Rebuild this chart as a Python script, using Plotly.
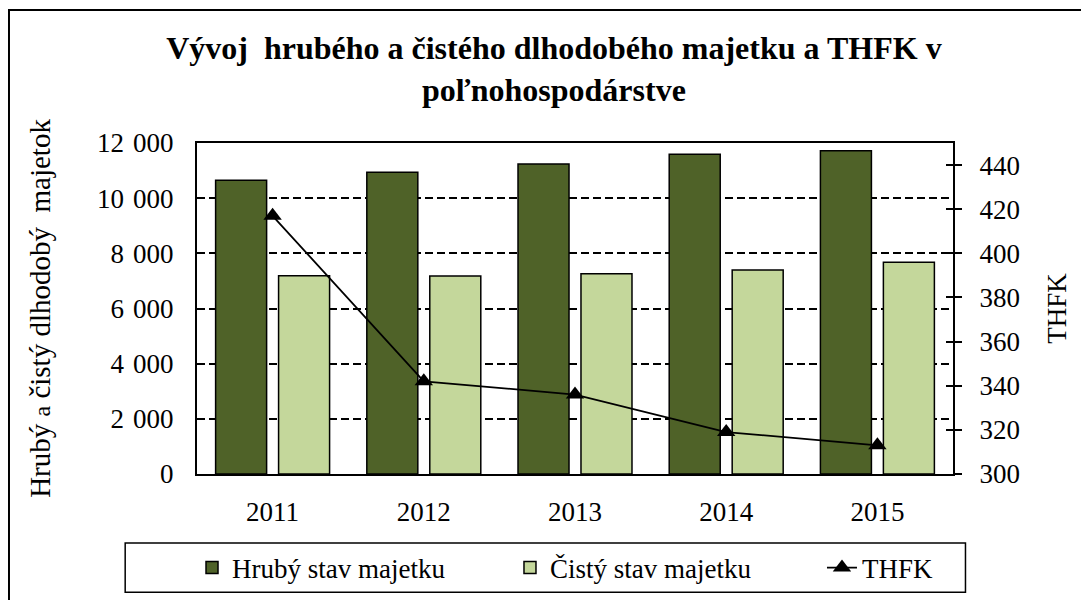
import plotly.graph_objects as go

years = ["2011", "2012", "2013", "2014", "2015"]
hruby = [10650, 10940, 11240, 11590, 11720]
cisty = [7190, 7180, 7260, 7400, 7680]
thfk = [417, 342, 336, 319, 313]

left_ticks = [0, 2000, 4000, 6000, 8000, 10000, 12000]
left_ticktext = ["0", "2 \u200A000", "4 \u200A000", "6 \u200A000", "8 \u200A000", "10 \u200A000", "12 \u200A000"]
right_ticks = [300, 320, 340, 360, 380, 400, 420, 440]

FONT = "Liberation Serif, Times New Roman, serif"
DARK = "#4F6228"
LIGHT = "#C4D79B"
TS = 27

fig = go.Figure()
fig.add_trace(go.Bar(x=years, y=hruby, name="Hrubý stav majetku", legend="legend",
                     marker=dict(color=DARK, line=dict(color="black", width=1.5))))
fig.add_trace(go.Bar(x=years, y=cisty, name="Čistý stav majetku", legend="legend2",
                     marker=dict(color=LIGHT, line=dict(color="black", width=1.5))))
fig.add_trace(go.Scatter(x=years, y=thfk, name="THFK", yaxis="y2", mode="lines+markers",
                         legend="legend3",
                         line=dict(color="black", width=1.8),
                         marker=dict(symbol="triangle-up", size=16, color="black")))
# invisible trace so the crossing tick marks of the right axis render
fig.add_trace(go.Scatter(x=years, y=thfk, yaxis="y3", mode="none", showlegend=False, hoverinfo="skip"))

leg_common = dict(orientation="h", y=-0.284, yanchor="middle", xanchor="left",
                  font=dict(family=FONT, size=TS, color="black"), bgcolor="rgba(0,0,0,0)",
                  borderwidth=0)

fig.update_layout(
    template="none",
    width=1081, height=592,
    margin=dict(l=189, r=136, t=135, b=126, autoexpand=False),
    paper_bgcolor="white", plot_bgcolor="white",
    font=dict(family=FONT, size=TS, color="black"),
    title=dict(text="<b>Vývoj  hrubého a čistého dlhodobého majetku a THFK v<br>poľnohospodárstve</b>",
               x=0.505, xanchor="center", y=0.914, yanchor="middle",
               font=dict(family=FONT, size=32, color="black")),
    barmode="group", bargap=0.167, bargroupgap=0.19,
    showlegend=True,
    legend=dict(x=-0.0066, **leg_common),
    legend2=dict(x=0.414, **leg_common),
    legend3=dict(x=0.8267, **leg_common),
    xaxis=dict(showline=True, linecolor="black", linewidth=2, mirror=True, automargin=False,
               ticks="", ticklabelstandoff=13, showgrid=False, zeroline=False,
               tickfont=dict(family=FONT, size=TS, color="black")),
    yaxis=dict(range=[0, 12000], tickvals=left_ticks, ticktext=left_ticktext, automargin=False,
               showline=True, linecolor="black", linewidth=2, mirror=True,
               showgrid=True, gridcolor="black", griddash="8px,4px", gridwidth=1.5,
               ticks="", ticklabelstandoff=16, zeroline=False,
               tickfont=dict(family=FONT, size=TS, color="black"),
               title=dict(text="Hrubý <span style='font-size:24px'>a</span> čistý dlhodobý  majetok",
                          standoff=38, font=dict(family=FONT, size=29, color="black"))),
    yaxis2=dict(range=[300, 450], tickvals=right_ticks, overlaying="y", side="right",
                automargin=False,
                showline=True, linecolor="black", linewidth=2, showgrid=False,
                ticks="outside", ticklen=7, tickwidth=1.5, tickcolor="black",
                ticklabelstandoff=12, zeroline=False,
                tickfont=dict(family=FONT, size=TS, color="black"),
                title=dict(text="THFK", standoff=28, font=dict(family=FONT, size=TS, color="black"))),
    yaxis3=dict(range=[300, 450], tickvals=right_ticks, overlaying="y", side="right",
                anchor="x", showline=False, showgrid=False, showticklabels=False, automargin=False,
                ticks="inside", ticklen=7, tickwidth=1.5, tickcolor="black", zeroline=False),
)

# outer chart border and legend box
fig.add_shape(type="rect", xref="paper", yref="paper", x0=-0.2487, x1=1.1733, y0=-0.42, y1=1.4018,
              line=dict(color="black", width=2), fillcolor="rgba(0,0,0,0)", layer="below")
fig.add_shape(type="rect", xref="paper", yref="paper", x0=-0.095, x1=1.0165, y0=-0.2085, y1=-0.357,
              line=dict(color="black", width=1.5), fillcolor="rgba(0,0,0,0)")

fig.write_html("out.html")
